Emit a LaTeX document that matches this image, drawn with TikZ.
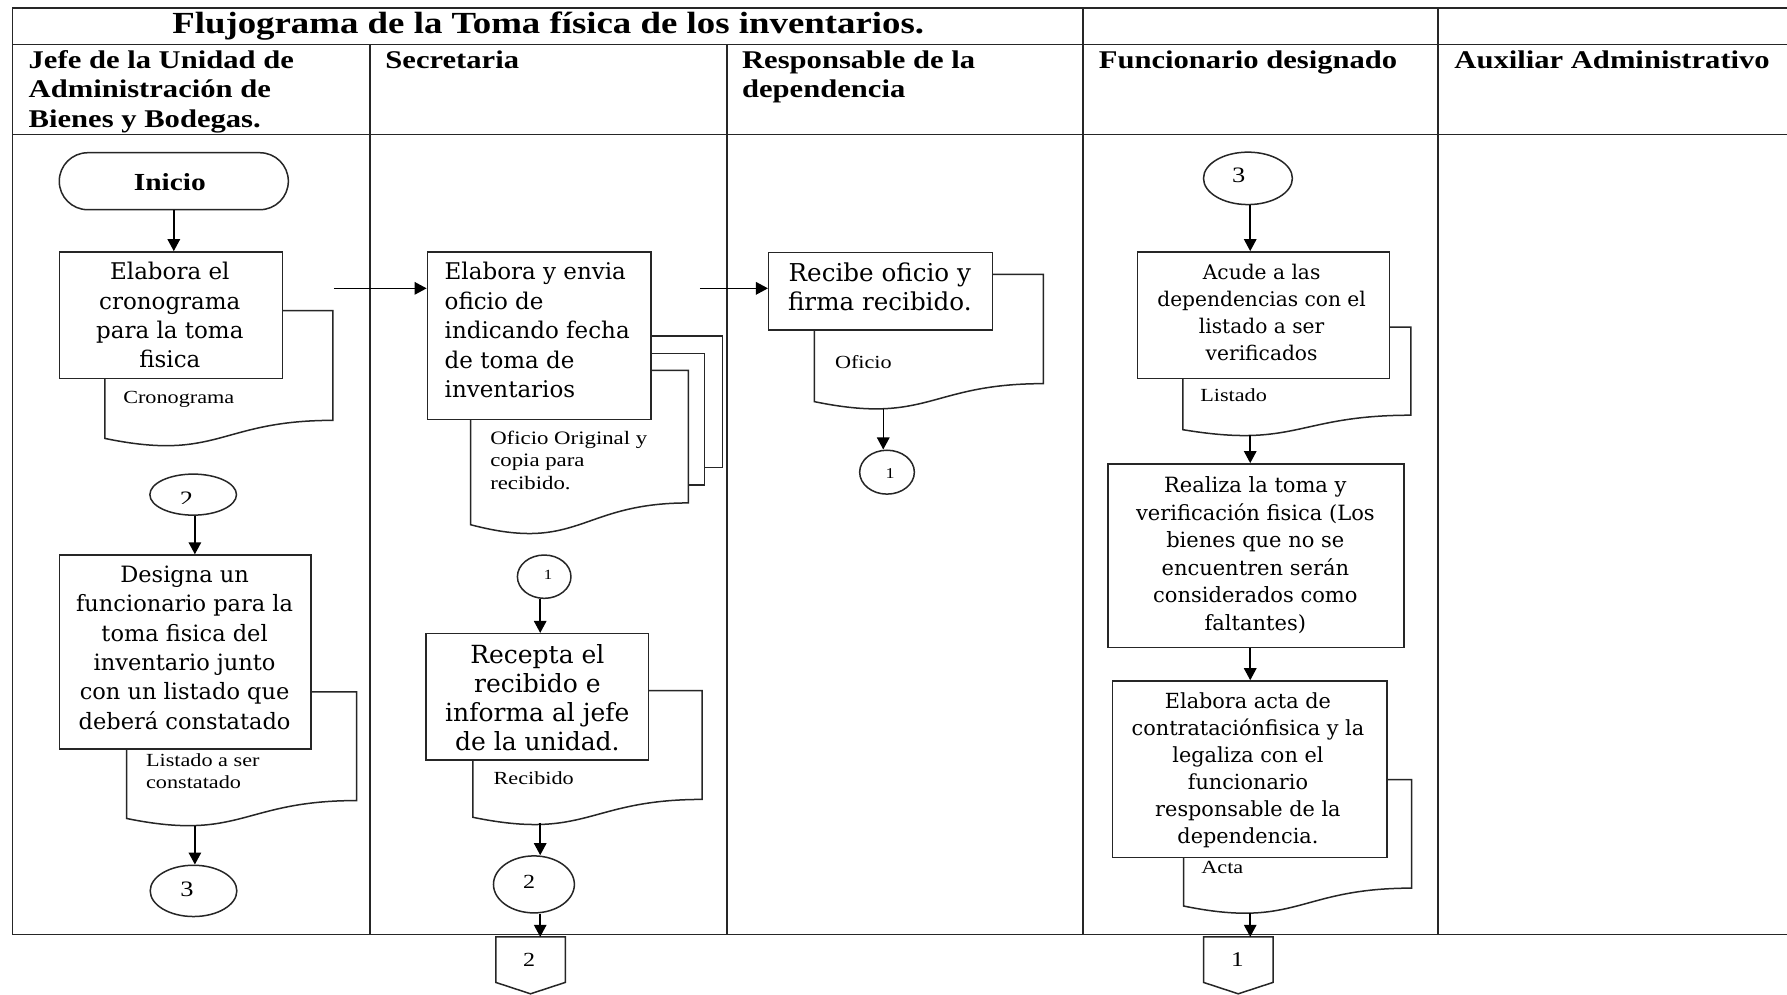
\documentclass[tikz,border=0pt]{standalone}
\usepackage{fontspec}
\setmainfont{Liberation Serif}[FakeStretch=1.2]
\newfontfamily\boxfont{DejaVu Serif}
\usetikzlibrary{shapes.geometric, shapes.misc, arrows.meta, calc, fit}
\newdimen\unitpx
\unitpx=1.1397pt

% document symbol with wavy bottom: left x, top y, right x, height
\newcommand{\docpage}[4]{%
  \pgfmathsetmacro\docxm{(#1+#3)/2}%
  \pgfmathsetmacro\docyr{#2+0.802*#4}%
  \pgfmathsetmacro\docyc{#2+1.107*#4}%
  \pgfmathsetmacro\docyl{#2+0.934*#4}%
  \draw[shp] (#1,#2) -- (#3,#2) -- (#3,\docyr) .. controls (\docxm,\docyr) and (\docxm,\docyc) .. (#1,\docyl) -- cycle;%
}
% font for process text: size, line distance
\newcommand{\procfont}[2]{\boxfont\fontsize{#1}{#2}\selectfont}

\begin{document}
\begin{tikzpicture}[x=1.1397pt, y=-1.1397pt,
  tableline/.style={draw=black!85, line width=1.8pt, line cap=rect},
  shp/.style={draw=black!85, line width=1.5pt, fill=white},
  proc/.style={shp, inner sep=0pt},
  ptext/.style={inner sep=0pt, anchor=north, align=center},
  term/.style={shp, rounded rectangle, inner sep=0pt, minimum width=201\unitpx, minimum height=50\unitpx},
  conncirc/.style={shp, ellipse, inner sep=0pt},
  digit/.style={inner sep=0pt},
  offpage/.style={inner sep=0pt, outer sep=0pt, minimum width=61\unitpx, minimum height=40\unitpx},
  arr/.style={draw=black, line width=1.5pt, -{Triangle[length=12pt,width=12.5pt]}},
  hdr/.style={anchor=north west, inner sep=0pt, align=left, font=\fontsize{25.5}{29.6}\selectfont\bfseries},
  lbl/.style={anchor=west, inner sep=0pt, align=left, font=\fontsize{18.5}{22}\selectfont},
]
\useasboundingbox (0,0) rectangle (1568,873);
\fill[white] (0,0) rectangle (1568,873);

% ---------- table ----------
\draw[tableline] (11,7) -- (1568,7);
\draw[tableline] (11,39) -- (1568,39);
\draw[tableline] (11,118) -- (1568,118);
\draw[tableline] (11,820) -- (1568,820);
\draw[tableline] (11,7) -- (11,820);
\draw[tableline] (325,39) -- (325,820);
\draw[tableline] (638,39) -- (638,820);
\draw[tableline] (950,7) -- (950,820);
\draw[tableline] (1262,7) -- (1262,820);

\node[anchor=base, inner sep=0pt, font=\fontsize{30.7}{30.7}\selectfont\bfseries] (title) at (481,29.5) {Flujograma de la Toma física de los inventarios.};

\node[hdr] (hjefe) at (25,44) {Jefe de la Unidad de\\Administración de\\Bienes y Bodegas.};
\node[hdr] (hsecr) at (338,44) {Secretaria};
\node[hdr] (hresp) at (651,44) {Responsable de la\\dependencia};
\node[hdr] (hfunc) at (964,44) {Funcionario designado};
\node[hdr] (haux) at (1276,44) {Auxiliar Administrativo};

% ---------- lane 1: jefe ----------
\node[term] (inicio) at (152.5,159) {};
\node[digit, font=\fontsize{24.5}{24.5}\selectfont\bfseries] (iniciotxt) at (149,159.5) {Inicio};

\docpage{92}{272.6}{292}{120}
\node[proc, fit={(52,221) (248,332)}] (crono) {};
\node[ptext, font=\procfont{23}{29.3}] (cronotxt) at (149,230.1) {Elabora el\\cronograma\\para la toma\\fisica};
\node[lbl] (lcrono) at (108,350) {Cronograma};
\coordinate (out1) at (293,253);

\node[conncirc, minimum width=76\unitpx, minimum height=36\unitpx] (c2a) at (169.5,434) {};
\begin{scope}
  \clip (150,420) rectangle (190,441.6);
  \node[digit, font=\fontsize{22}{22}\selectfont] (c2atxt) at (163.6,437.9) {2};
\end{scope}

\docpage{111}{607}{313}{119}
\node[proc, fit={(52,487) (273,657)}] (designa) {};
\node[ptext, font=\procfont{22.5}{29.4}] (designatxt) at (162,496.3) {Designa un\\funcionario para la\\toma fisica del\\inventario junto\\con un listado que\\deberá constatado};
\node[lbl, font=\fontsize{18.5}{21.7}\selectfont] (llist) at (128,676.5) {Listado a ser\\constatado};
\coordinate (doc2b) at (171,724.5);

\node[conncirc, minimum width=76\unitpx, minimum height=45\unitpx] (c3a) at (169.8,781.7) {};
\node[digit, font=\fontsize{22}{22}\selectfont] (c3atxt) at (164,780.2) {3};

\draw[arr] (inicio.south) -- (inicio.south |- crono.north);
\draw[arr] (c2a.south -| doc2b) -- (doc2b |- designa.north);
\draw[arr] (doc2b) -- (doc2b |- c3a.north);

% ---------- lane 2: secretaria ----------
\draw[shp] (443,295) rectangle (634,410);
\draw[shp] (428,310) rectangle (618,425.6);
\docpage{413}{325}{604}{145}
\node[proc, fit={(375,221) (571,368)}] (envia) {};
\node[ptext, anchor=north west, align=left, font=\procfont{23}{29.4}] (enviatxt) at (390,230.1) {Elabora y envia\\oficio de\\indicando fecha\\de toma de\\inventarios};
\node[lbl, font=\fontsize{19}{22.5}\selectfont] (loficio) at (430,404) {Oficio Original y\\copia para\\recibido.};
\coordinate (out2) at (614,253);

\node[conncirc, minimum width=47\unitpx, minimum height=38\unitpx] (c1b) at (477.5,506) {};
\node[digit, font=\fontsize{14}{14}\selectfont] (c1btxt) at (481,504.5) {1};

\docpage{415}{606}{616}{119}
\node[proc, fit={(374,556) (569,667)}] (recepta) {};
\node[ptext, font=\procfont{25}{28.9}] (receptatxt) at (471.5,565.4) {Recepta el\\recibido e\\informa al jefe\\de la unidad.};
\node[lbl] (lrecib) at (433,683) {Recibido};
\coordinate (doc4b) at (474,722);

\node[conncirc, minimum width=71\unitpx, minimum height=50\unitpx] (c2b) at (468.5,776) {};
\node[digit, font=\fontsize{20}{20}\selectfont] (c2btxt) at (464.3,773.6) {2};

\node[offpage] (off2) at (465.5,842) {};
\draw[shp, fill=none] (off2.north west) -- (off2.north east) -- (off2.south east) -- ($(off2.south)+(0,10)$) -- (off2.south west) -- cycle;
\node[digit, font=\fontsize{20}{20}\selectfont] (off2txt) at (464.3,842.3) {2};

\draw[arr] (out1) -- (out1 -| envia.west);
\draw[arr] (c1b.south -| doc4b) -- (doc4b |- recepta.north);
\draw[arr] (doc4b) -- (doc4b |- c2b.north);
\draw[arr] (c2b.south -| doc4b) -- (doc4b |- off2.north);

% ---------- lane 3: responsable ----------
\docpage{714.5}{240.7}{915.4}{119.6}
\node[proc, fit={(674.5,221.7) (871,289.6)}] (recibe) {};
\node[ptext, font=\procfont{24.6}{28.5}] (recibetxt) at (772,230.5) {Recibe oficio y\\firma recibido.};
\node[lbl] (lofi) at (732.5,318) {Oficio};
\coordinate (doc3b) at (775,358.5);
\node[conncirc, minimum width=48\unitpx, minimum height=38.5\unitpx] (c1c) at (778.3,414.3) {};
\node[digit, font=\fontsize{15}{15}\selectfont] (c1ctxt) at (781,415.3) {1};

\draw[arr] (out2) -- (out2 -| recibe.west);
\draw[arr] (doc3b) -- (doc3b |- c1c.north);

% ---------- lane 4: funcionario ----------
\node[conncirc, minimum width=78\unitpx, minimum height=46\unitpx] (c3d) at (1095,156.5) {};
\node[digit, font=\fontsize{22}{22}\selectfont] (c3dtxt) at (1086.8,153.8) {3};

\docpage{1038}{287}{1238}{96.4}
\node[proc, fit={(998,221) (1219,332)}] (acude) {};
\node[ptext, font=\procfont{20.2}{27}] (acudetxt) at (1107,231.2) {Acude a las\\dependencias con el\\listado a ser\\verificados};
\node[lbl] (llistado) at (1053,347) {Listado};
\coordinate (doc5b) at (1097,382);

\node[proc, fit={(972,407) (1232,568)}] (realiza) {};
\node[ptext, font=\procfont{21}{27.6}] (realizatxt) at (1101.5,417.9) {Realiza la toma y\\verificación fisica (Los\\bienes que no se\\encuentren serán\\considerados como\\faltantes)};

\docpage{1038.5}{684}{1238.6}{118.8}
\node[proc, fit={(976,597.5) (1217,752.5)}] (acta) {};
\node[ptext, font=\procfont{20.8}{26.9}] (actatxt) at (1095,608) {Elabora acta de\\contrataciónfisica y la\\legaliza con el\\funcionario\\responsable de la\\dependencia.};
\node[lbl] (lacta) at (1054,761) {Acta};
\coordinate (doc7b) at (1097,801);

\node[offpage] (off1) at (1086.5,842) {};
\draw[shp, fill=none] (off1.north west) -- (off1.north east) -- (off1.south east) -- ($(off1.south)+(0,10)$) -- (off1.south west) -- cycle;
\node[digit, font=\fontsize{21}{21}\selectfont] (off1txt) at (1085.8,841.6) {1};

\draw[arr] (c3d.south -| doc5b) -- (doc5b |- acude.north);
\draw[arr] (doc5b) -- (doc5b |- realiza.north);
\draw[arr] (realiza.south -| doc5b) -- (doc5b |- acta.north);
\draw[arr] (doc7b) -- (doc7b |- off1.north);
\end{tikzpicture}
\end{document}
